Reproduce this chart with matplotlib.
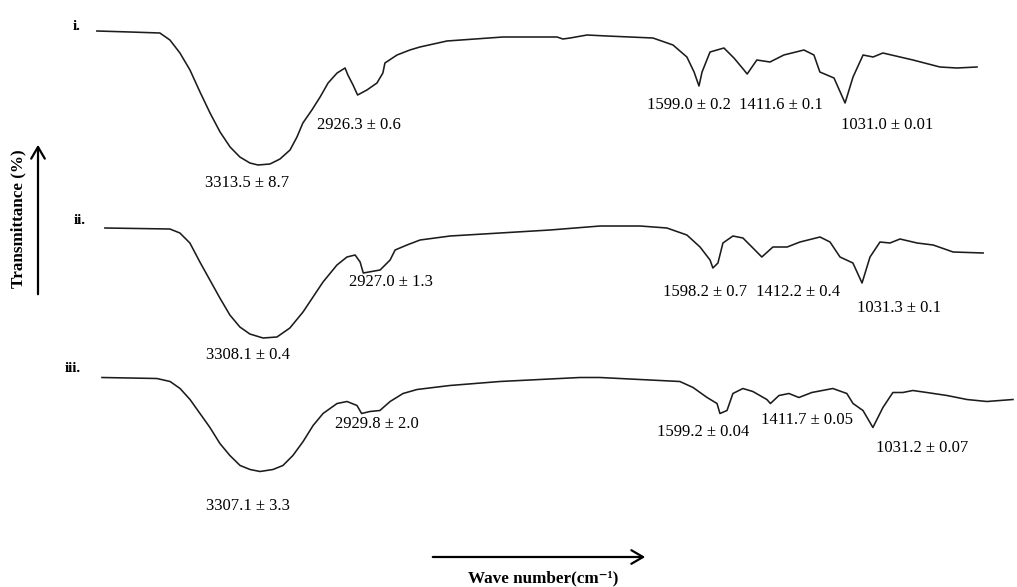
import matplotlib.pyplot as plt
import numpy as np
from matplotlib.patches import FancyArrowPatch

plt.rcParams["font.family"] = ["Liberation Serif", "DejaVu Serif"]

# FTIR spectra: wavenumber (cm-1) against transmittance (%)
wn_i = [3940, 3811, 3695, 3656, 3617, 3578, 3539, 3500, 3461, 3422, 3384, 3345,
        3313.5, 3267, 3228, 3189, 3162, 3139, 3104, 3072, 3041, 3006, 2975, 2964,
        2944, 2926.3, 2890, 2851, 2828, 2820, 2773, 2723, 2684, 2579, 2361, 2151,
        2128, 2100, 2034, 1957, 1778, 1700, 1646, 1618, 1599.0, 1587, 1556, 1502,
        1463, 1424, 1411.6, 1374, 1323, 1269, 1191, 1152, 1129, 1074, 1031.0, 1000,
        961, 922, 884, 817, 767, 662, 596, 518]
t_i = [100, 99.5, 99, 95.5, 89, 80.5, 69.5, 59, 49.5, 42, 37, 34,
       33, 33.5, 36, 40.5, 47, 54, 60.5, 67, 74, 79, 81.5, 78,
       73, 68, 70.5, 74, 79, 84, 88, 90.5, 92, 95, 97, 97,
       96, 96.5, 98, 97.5, 96.5, 93, 87, 79.5, 72.5, 79.5, 89.5, 91.5,
       86.5, 80.5, 78.5, 85.5, 84.5, 88, 90.5, 88, 79.5, 76.5, 64, 77,
       88, 87, 89, 87, 85.5, 82, 81.5, 82]

wn_ii = [3909, 3662, 3624, 3586, 3548, 3510, 3472, 3434, 3396, 3358, 3308.1, 3255,
         3206, 3156, 3118, 3080, 3027, 2989, 2958, 2939, 2927.0, 2863, 2825, 2806,
         2761, 2711, 2597, 2407, 2217, 2027, 1875, 1773, 1697, 1647, 1609, 1598.2,
         1579, 1560, 1522, 1484, 1446, 1412.2, 1370, 1316, 1267, 1191, 1153, 1115,
         1066, 1031.3, 1001, 963, 925, 887, 822, 761, 685, 571]
t_ii = [100, 99.5, 97.5, 92.5, 83, 74, 65, 56.5, 50.5, 47, 45, 45.5,
        50, 58, 65.5, 73, 81.5, 85.5, 86.5, 83, 77.5, 79, 84, 89,
        91.5, 94, 96, 97.5, 99, 101, 101, 100, 96.5, 90.5, 84, 80,
        82.5, 92.5, 96, 95, 90, 85.5, 90.5, 90.5, 93, 95.5, 93, 85.5,
        82.5, 72.5, 85.5, 93, 92.5, 94.5, 92.5, 91.5, 88, 87.5]

wn_iii = [3894, 3690, 3641, 3604, 3567, 3530, 3493, 3456, 3419, 3381, 3344, 3307.1,
          3259, 3222, 3185, 3147, 3110, 3073, 3021, 2984, 2947, 2929.8, 2899, 2862,
          2824, 2776, 2724, 2602, 2416, 2268, 2119, 2045, 1748, 1699, 1647, 1610,
          1599.2, 1573, 1551, 1514, 1477, 1425, 1411.7, 1380, 1343, 1306, 1258, 1180,
          1128, 1105, 1068, 1031.2, 994, 957, 920, 883, 831, 756, 682, 608, 511]
t_iii = [100, 99.5, 98, 94.5, 89, 82, 75, 67, 61, 56, 54, 53,
         54, 56, 61, 68, 76, 82, 87, 88, 86, 82, 83, 83.5,
         88, 92, 94, 96, 98, 99, 100, 100, 98, 95, 90, 87,
         82, 83.5, 92, 94.5, 93, 89, 87, 91, 92, 90, 92.5, 94.5,
         92, 87, 83.5, 75, 85, 92.5, 92.5, 93.5, 92.5, 91, 89, 88, 89]

# band positions with their +/- deviations
peaks_i = [3313.5, 2926.3, 1599.0, 1411.6, 1031.0]
sd_i = ["8.7", "0.6", "0.2", "0.1", "0.01"]
peaks_ii = [3308.1, 2927.0, 1598.2, 1412.2, 1031.3]
sd_ii = ["0.4", "1.3", "0.7", "0.4", "0.1"]
peaks_iii = [3307.1, 2929.8, 1599.2, 1411.7, 1031.2]
sd_iii = ["3.3", "2.0", "0.04", "0.05", "0.07"]

W, H = 1017, 587
fig = plt.figure(figsize=(W / 100, H / 100), dpi=100)

# one full-size panel per trace: (name, x, y, peaks, sd, xlim, ytop, name offset, label offsets in px)
panels = [
    ("i.", wn_i, t_i, peaks_i, sd_i, (4316.6, 362.5), 115.5, (-20, 4),
     [(-11, -18), (1, -30), (-10, -19), (34, -31), (42, -22)]),
    ("ii.", wn_ii, t_ii, peaks_ii, sd_ii, (4307.7, 442.3), 214.0, (-25, 8),
     [(-15, -17), (28, -9), (-8, -24), (36, -35), (37, -25)]),
    ("iii.", wn_iii, t_iii, peaks_iii, sd_iii, (4272.6, 496.1), 288.75, (-29, 9),
     [(-12, -34), (15, -10), (-17, -19), (37, -17), (49, -21)]),
]

for name, wn, t, peaks, sd, xlim, ytop, name_off, offs in panels:
    ax = fig.add_axes([0, 0, 1, 1])
    ax.patch.set_alpha(0)
    ax.axis("off")
    ax.set_xlim(*xlim)
    ax.set_ylim(ytop - H / 2, ytop)
    ax.plot(wn, t, color="#1c1c1c", lw=1.15, solid_joinstyle="round")

    ax.annotate(name, xy=(wn[0], t[0]), xytext=name_off, textcoords="offset pixels",
                ha="center", va="center", fontsize=11, fontweight="bold")

    wn_r, t_r = np.array(wn)[::-1], np.array(t)[::-1]
    for p, s, off in zip(peaks, sd, offs):
        ax.annotate(f"{p:.1f} \u00b1 {s}", xy=(p, np.interp(p, wn_r, t_r)),
                    xytext=off, textcoords="offset pixels",
                    ha="center", va="center", fontsize=12)

# axis arrows and titles
arrow_style = "->,head_length=0.6,head_width=0.35"
fig.patches.append(FancyArrowPatch(
    (430 / W, 1 - 557 / H), (648 / W, 1 - 557 / H), transform=fig.transFigure,
    arrowstyle=arrow_style, mutation_scale=14, lw=1.6, color="black"))
fig.patches.append(FancyArrowPatch(
    (38 / W, 1 - 297 / H), (38 / W, 1 - 142 / H), transform=fig.transFigure,
    arrowstyle=arrow_style, mutation_scale=14, lw=1.6, color="black"))

fig.text(543 / W, 1 - 578 / H, "Wave number(cm\u207b\u00b9)", ha="center", va="center",
         fontsize=12.3, fontweight="bold")
fig.text(18 / W, 1 - 219 / H, "Transmittance (%)", rotation=90, ha="center", va="center",
         fontsize=12.3, fontweight="bold")

fig.savefig("out.png", dpi=100)
